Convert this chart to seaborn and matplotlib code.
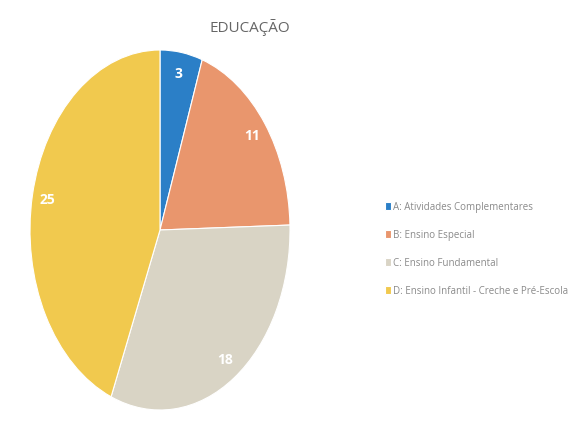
import matplotlib
matplotlib.use('Agg')
import matplotlib.pyplot as plt
import seaborn as sns

categorias = ['A: Atividades Complementares', 'B: Ensino Especial',
              'C: Ensino Fundamental', 'D: Ensino Infantil - Creche e Pré-Escola']
valores = [3, 11, 18, 25]
cores = ['#2b7fc7', '#e9966d', '#d9d4c5', '#f1c94e']

sns.set_theme(style='white')
plt.rcParams['font.family'] = ['Open Sans', 'DejaVu Sans']

fig = plt.figure(figsize=(5.72, 4.23), dpi=100)
ax = fig.add_axes([30 / 572, 13 / 423, 260 / 572, 360 / 423])

wedges, textos = ax.pie(valores, colors=cores, startangle=90, counterclock=False,
                        labels=[str(v) for v in valores], labeldistance=0.88,
                        wedgeprops={'linewidth': 0.8, 'edgecolor': 'white'},
                        textprops={'color': 'white', 'fontsize': 10, 'fontweight': 'bold',
                                   'ha': 'center', 'va': 'center'})
ax.set_aspect('auto')
ax.set_xlim(-1, 1)
ax.set_ylim(-1, 1)

fig.text(250 / 572, 1 - 28 / 423, 'EDUCAÇÃO', ha='center', va='center',
         fontsize=11, color='#666666')

fig.legend(wedges, categorias, loc='upper left', bbox_to_anchor=(376 / 572, 1 - 193 / 423),
           frameon=False, fontsize=7, labelcolor='#8a8a8a', handlelength=0.6,
           handleheight=0.9, handletextpad=0.3, labelspacing=1.75)

fig.savefig('out.png', dpi=100)
